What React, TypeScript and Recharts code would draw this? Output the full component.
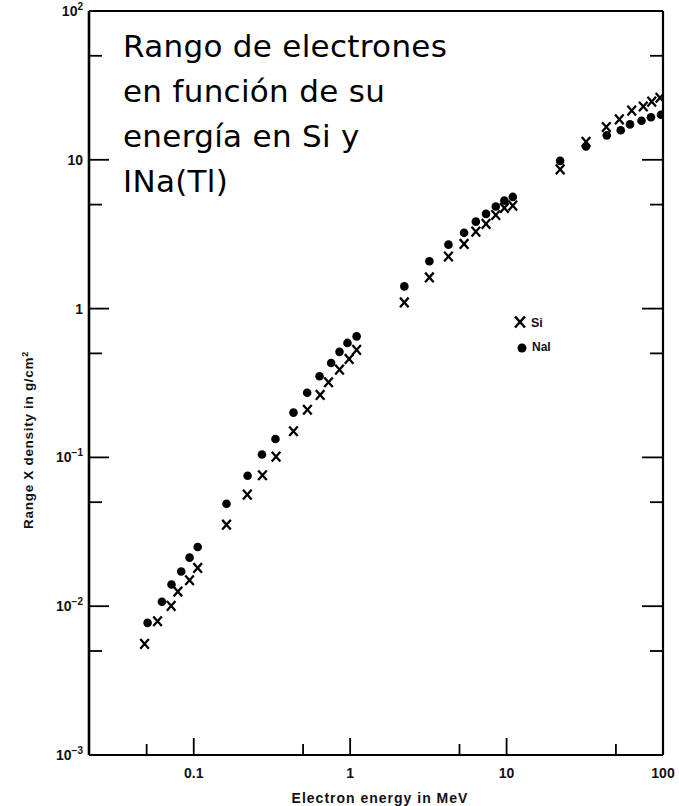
import React from 'react';
import { ScatterChart, Scatter, XAxis, YAxis, Legend } from 'recharts';

// Electron energy (MeV) and range x density (g/cm^2)
const siEnergy = [0.0485, 0.0587, 0.0717, 0.0792, 0.094, 0.106, 0.162, 0.22, 0.275, 0.336, 0.434, 0.533, 0.643, 0.727, 0.855, 0.985, 1.1, 2.22, 3.21, 4.25, 5.35, 6.36, 7.39, 8.53, 9.68, 10.96, 22.0, 32.2, 43.4, 52.6, 63.1, 74.8, 84.7, 95.7];
const siRange = [0.00558, 0.00792, 0.01005, 0.01254, 0.01493, 0.01808, 0.0353, 0.0562, 0.0758, 0.1012, 0.15, 0.209, 0.263, 0.32, 0.389, 0.459, 0.528, 1.1, 1.62, 2.24, 2.72, 3.29, 3.71, 4.26, 4.75, 4.92, 8.62, 13.2, 16.6, 18.7, 21.4, 22.8, 24.6, 26.1];

const naiEnergy = [0.0507, 0.0626, 0.0721, 0.0832, 0.094, 0.106, 0.162, 0.221, 0.273, 0.333, 0.434, 0.531, 0.637, 0.756, 0.855, 0.961, 1.1, 2.22, 3.21, 4.25, 5.35, 6.36, 7.39, 8.53, 9.68, 10.96, 22.0, 32.2, 43.7, 53.7, 61.5, 72.9, 83.8, 97.1];
const naiRange = [0.00773, 0.0107, 0.014, 0.0171, 0.0212, 0.025, 0.0488, 0.0752, 0.1045, 0.133, 0.2, 0.272, 0.351, 0.431, 0.512, 0.588, 0.651, 1.41, 2.08, 2.69, 3.23, 3.84, 4.33, 4.85, 5.32, 5.63, 9.84, 12.3, 14.6, 15.8, 17.3, 18.3, 19.3, 20.1];

const xTicks = [0.05, 0.1, 0.5, 1, 5, 10, 50, 100];
const xMajor = [0.1, 1, 10, 100];
const xTickLabels = ['0.1', '1', '10', '100'];
const yTicks = [0.001, 0.005, 0.01, 0.05, 0.1, 0.5, 1, 5, 10, 50, 100];
const yMajor = [0.001, 0.01, 0.1, 1, 10, 100];
const yTickBase = ['10', '10', '10', '1', '10', '10'];
const yTickExp = ['\u22123', '\u22122', '\u22121', '', '', '2'];

const titleLines = ['Rango de electrones', 'en funci\u00f3n de su', 'energ\u00eda en Si y', 'INa(Tl)'];

const siData = siEnergy.map((e, i) => ({ energy: e, range: siRange[i] }));
const naiData = naiEnergy.map((e, i) => ({ energy: e, range: naiRange[i] }));

const TICK_FONT = { fontFamily: '"Liberation Sans", Arial, sans-serif', fontWeight: 700, fontSize: 14, fill: '#111' };

const BottomTick = (props: any) => {
  const { x, y, payload } = props;
  const idx = xMajor.indexOf(payload.value);
  const len = idx >= 0 ? 17 : 11;
  return (
    <g>
      <line x1={x} x2={x} y1={y} y2={y - len} stroke="#000" strokeWidth={1.8} />
      {idx >= 0 && (
        <text x={x} y={y + 23} textAnchor="middle" {...TICK_FONT}>{xTickLabels[idx]}</text>
      )}
    </g>
  );
};

const TopTick = (props: any) => {
  const { x, y, payload } = props;
  const len = xMajor.indexOf(payload.value) >= 0 ? 20 : 11;
  return <line x1={x} x2={x} y1={y} y2={y + len} stroke="#000" strokeWidth={1.8} />;
};

const LeftTick = (props: any) => {
  const { x, y, payload } = props;
  const idx = yMajor.indexOf(payload.value);
  const len = idx >= 0 ? 20 : 13;
  return (
    <g>
      <line x1={x} x2={x + len} y1={y} y2={y} stroke="#000" strokeWidth={1.8} />
      {idx >= 0 && (
        <text x={x - 6} y={y + 5} textAnchor="end" {...TICK_FONT}>
          {yTickBase[idx]}
          {yTickExp[idx] && (
            <tspan fontSize={10} dy={-6}>{yTickExp[idx]}</tspan>
          )}
        </text>
      )}
    </g>
  );
};

const RightTick = (props: any) => {
  const { x, y, payload } = props;
  const len = yMajor.indexOf(payload.value) >= 0 ? 21 : 13;
  return <line x1={x} x2={x - len} y1={y} y2={y} stroke="#000" strokeWidth={1.8} />;
};

const CrossShape = (props: any) => {
  const { cx, cy } = props;
  if (cx == null || cy == null) return null;
  const w = 4.3;
  const h = 4.8;
  return (
    <path
      d={`M${cx - w},${cy - h}L${cx + w},${cy + h}M${cx + w},${cy - h}L${cx - w},${cy + h}`}
      stroke="#000"
      strokeWidth={2.3}
      fill="none"
    />
  );
};

const DotShape = (props: any) => {
  const { cx, cy } = props;
  if (cx == null || cy == null) return null;
  return <circle cx={cx} cy={cy} r={4.3} fill="#000" />;
};

const LegendContent = () => (
  <svg width={70} height={50} style={{ display: 'block', overflow: 'visible' }}>
    <path d="M7,8.5L17,19.5M17,8.5L7,19.5" stroke="#000" strokeWidth={2.6} fill="none" />
    <text x={23} y={19} {...TICK_FONT} fontSize={12.5}>Si</text>
    <circle cx={14} cy={40} r={4.5} fill="#000" />
    <text x={24} y={43} {...TICK_FONT} fontSize={12}>NaI</text>
  </svg>
);

const W = 679;
const H = 806;

export default function App() {
  return (
    <div
      style={{
        position: 'absolute',
        left: 0,
        top: 0,
        width: W,
        height: H,
        overflow: 'hidden',
        background: '#fff',
      }}
    >
      <ScatterChart width={W} height={H} margin={{ top: 0, right: 0, bottom: 0, left: 0 }}>
        <XAxis
          dataKey="energy"
          type="number"
          scale="log"
          domain={[0.0214, 100]}
          allowDataOverflow
          ticks={xTicks}
          interval={0}
          height={51}
          tickSize={0}
          tickMargin={0}
          tickLine={false}
          tick={<BottomTick />}
          axisLine={{ stroke: '#000', strokeWidth: 2 }}
        />
        <XAxis
          xAxisId="top"
          orientation="top"
          type="number"
          scale="log"
          domain={[0.0214, 100]}
          allowDataOverflow
          ticks={xTicks}
          interval={0}
          height={11}
          tickSize={0}
          tickMargin={0}
          tickLine={false}
          tick={<TopTick />}
          axisLine={{ stroke: '#000', strokeWidth: 2 }}
        />
        <YAxis
          dataKey="range"
          type="number"
          scale="log"
          domain={[0.001, 100]}
          allowDataOverflow
          ticks={yTicks}
          interval={0}
          width={89}
          tickSize={0}
          tickMargin={0}
          tickLine={false}
          tick={<LeftTick />}
          axisLine={{ stroke: '#000', strokeWidth: 2.6 }}
        />
        <YAxis
          yAxisId="right"
          orientation="right"
          type="number"
          scale="log"
          domain={[0.001, 100]}
          allowDataOverflow
          ticks={yTicks}
          interval={0}
          width={16}
          tickSize={0}
          tickMargin={0}
          tickLine={false}
          tick={<RightTick />}
          axisLine={{ stroke: '#000', strokeWidth: 2.2 }}
        />
        <Legend
          layout="vertical"
          align="center"
          verticalAlign="middle"
          content={<LegendContent />}
          wrapperStyle={{ left: 508, top: 308, width: 70, height: 50 }}
        />
        <Scatter name="Si" data={siData} shape={<CrossShape />} isAnimationActive={false} />
        <Scatter name="NaI" data={naiData} shape={<DotShape />} isAnimationActive={false} />
      </ScatterChart>
      <svg
        width={W}
        height={H}
        style={{ position: 'absolute', left: 0, top: 0, pointerEvents: 'none' }}
      >
        {titleLines.map((t, i) => (
          <text
            key={i}
            x={123}
            y={57 + i * 45}
            fontFamily='"DejaVu Sans", sans-serif'
            fontSize={31}
            letterSpacing={0.3}
            fill="#000"
          >
            {t}
          </text>
        ))}
        <text
          x={380}
          y={803}
          textAnchor="middle"
          fontFamily='"Liberation Sans", Arial, sans-serif'
          fontWeight={700}
          fontSize={14}
          letterSpacing={1}
          fill="#111"
        >
          Electron energy in MeV
        </text>
        <text
          transform="translate(33,440) rotate(-90)"
          textAnchor="middle"
          fontFamily='"Liberation Sans", Arial, sans-serif'
          fontWeight={700}
          fontSize={13.5}
          letterSpacing={0.7}
          fill="#111"
        >
          Range X density in g/cm
          <tspan fontSize={9} dy={-5}>2</tspan>
        </text>
      </svg>
    </div>
  );
}
